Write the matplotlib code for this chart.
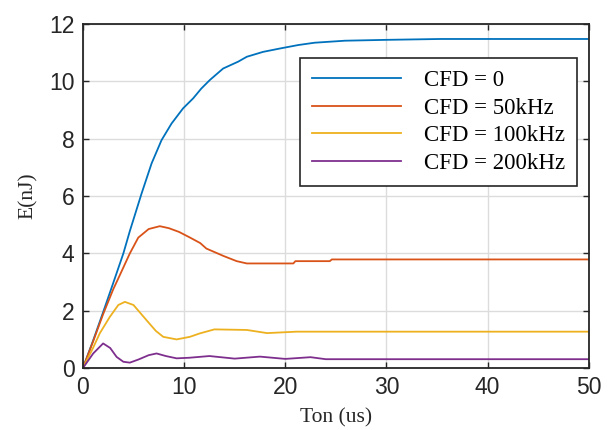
import matplotlib
matplotlib.use("Agg")
import matplotlib.pyplot as plt

# ---- data ----
t_cfd0 = [0, 1, 2, 3, 4, 4.64, 5.8, 6.79, 7.77, 8.76, 9.9, 10.9, 11.7, 12.55, 13.86, 15.35, 16.2, 17.8, 19.5, 21.3, 22.9, 25.9, 30, 35.3, 40, 50]
e_cfd0 = [0, 0.95, 1.95, 2.97, 4.0, 4.78, 6.09, 7.14, 7.95, 8.53, 9.06, 9.41, 9.75, 10.05, 10.45, 10.69, 10.86, 11.03, 11.15, 11.27, 11.35, 11.42, 11.45, 11.48, 11.48, 11.48]

t_cfd50 = [0, 1, 2, 3, 3.66, 4.64, 5.47, 6.5, 7.6, 8.5, 9.5, 10.6, 11.6, 12.2, 13.9, 15.2, 16.2, 20.8, 21.0, 24.4, 24.6, 50]
e_cfd50 = [0, 0.92, 1.88, 2.75, 3.25, 4.0, 4.55, 4.85, 4.95, 4.88, 4.75, 4.55, 4.36, 4.17, 3.91, 3.73, 3.65, 3.65, 3.73, 3.73, 3.79, 3.79]

t_cfd100 = [0, 1, 1.68, 2.67, 3.5, 4.15, 5.0, 6.29, 7.2, 7.94, 9.26, 10.57, 11.56, 13.0, 16.2, 18.2, 21.1, 50]
e_cfd100 = [0, 0.7, 1.22, 1.79, 2.2, 2.31, 2.2, 1.67, 1.3, 1.09, 1.0, 1.09, 1.21, 1.35, 1.33, 1.22, 1.27, 1.27]

t_cfd200 = [0, 1.02, 2.0, 2.7, 3.33, 4.0, 4.64, 5.5, 6.5, 7.28, 8.2, 9.26, 10.5, 12.5, 15, 17.5, 20, 22.5, 24, 50]
e_cfd200 = [0, 0.51, 0.86, 0.7, 0.39, 0.22, 0.19, 0.3, 0.45, 0.51, 0.42, 0.34, 0.36, 0.42, 0.33, 0.40, 0.32, 0.38, 0.31, 0.31]

labels = ["CFD = 0", "CFD = 50kHz", "CFD = 100kHz", "CFD = 200kHz"]
colors = ["#0072BD", "#D95319", "#EDB120", "#7E2F8E"]

x_ticks = [0, 10, 20, 30, 40, 50]
y_ticks = [0, 2, 4, 6, 8, 10, 12]

# ---- figure ----
fig = plt.figure(figsize=(6.14, 4.30), dpi=100)
ax = fig.add_axes([0.135, 0.144, 0.824, 0.800])

series = [(t_cfd0, e_cfd0), (t_cfd50, e_cfd50), (t_cfd100, e_cfd100), (t_cfd200, e_cfd200)]
for (t, e), lab, c in zip(series, labels, colors):
    ax.plot(t, e, color=c, lw=1.3, label=lab)

ax.set_xlim(0, 50)
ax.set_ylim(0, 12)
ax.set_xticks(x_ticks)
ax.set_yticks(y_ticks)
ax.grid(True, color="#dcdcdc", lw=1.0)
ax.set_axisbelow(True)

for sp in ax.spines.values():
    sp.set_color("#262626")
    sp.set_linewidth(1.3)

ax.tick_params(direction="in", length=4, width=1, colors="#262626",
               top=True, right=True, labelsize=16.5, pad=6)
for lbl in ax.get_xticklabels() + ax.get_yticklabels():
    lbl.set_fontfamily("Liberation Sans")
    lbl.set_color("#262626")

ax.set_xlabel("Ton (us)", family="Liberation Serif", fontsize=15.5, color="#262626", labelpad=6)
ax.set_ylabel("E(nJ)", family="Liberation Serif", fontsize=15.5, color="#262626", labelpad=8)

leg = ax.legend(loc="upper right", bbox_to_anchor=(0.976, 0.901),
                prop={"family": "Liberation Serif", "size": 16.5},
                frameon=True, fancybox=False, framealpha=1, edgecolor="#262626",
                handlelength=3.9, handletextpad=1.0, labelspacing=0.3,
                borderpad=0.5, borderaxespad=0)
leg.get_frame().set_linewidth(1.2)

fig.savefig("out.png", dpi=100)
